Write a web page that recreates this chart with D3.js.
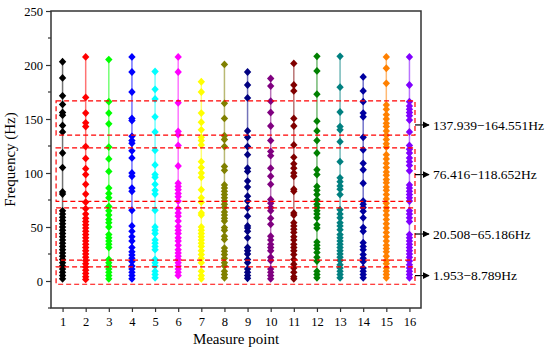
<!DOCTYPE html>
<html>
<head>
<meta charset="utf-8">
<script src="https://cdn.jsdelivr.net/npm/d3@7"></script>
<style>
  body { margin: 0; background: #fff; }
  text { font-family: "Liberation Serif", "Times New Roman", serif; fill: #000; }
</style>
</head>
<body>
<div id="chart"></div>
<script>
// measure points and their frequencies (Hz)
const points = [1, 2, 3, 4, 5, 6, 7, 8, 9, 10, 11, 12, 13, 14, 15, 16];
const colors = ["#000000", "#ff0000", "#00ff00", "#0000ff", "#00ffff", "#ff00ff", "#ffff00", "#808000",
                "#000080", "#800080", "#800000", "#008000", "#008080", "#0000a0", "#ff8000", "#8000ff"];

const mp1 = [203, 188, 171.5, 163.5, 156, 153.5, 144, 138, 118.5, 105, 82.5, 80.5, 65, 62, 59, 56, 53, 50, 47, 44, 41,
             38, 35, 32, 29, 26, 23, 20, 17, 14, 11, 8, 5, 2];
const mp2 = [207.5, 170, 155.5, 146.5, 143, 124.5, 113.5, 104, 98.5, 89.5, 80.5, 73, 67, 62, 58, 55, 52, 49, 46, 43,
             40, 37, 34, 31, 28, 25, 22, 19, 16, 13, 10, 7, 4, 1.5];
const mp3 = [205, 166, 155.5, 145.5, 124, 113, 101.5, 86, 81, 77, 69, 65, 61, 57, 54, 50, 43, 40, 37, 34, 31, 20,
             17, 14, 11, 8, 5, 2];
const mp4 = [207.5, 193.5, 175, 150.5, 148.5, 134, 130, 127.5, 120.5, 114, 100, 97, 86, 83, 65.5, 51, 46, 41, 37,
             31, 27, 24, 21, 18, 14, 11, 8, 5, 2];
const mp5 = [194, 177.5, 168.5, 152, 138, 121, 107.5, 98.5, 96, 89.5, 84, 80.5, 65.5, 50, 47, 44, 38, 35, 32, 29,
             20, 17, 14, 9, 6, 3];
const mp6 = [207.5, 193.5, 165, 138.5, 135.5, 125.5, 106.5, 90.5, 87.5, 84.5, 81, 78, 74, 67, 63, 60, 55.5, 50.5,
             47, 44, 40, 37, 33, 29, 26, 23, 20, 17, 14, 11, 8, 5];
const mp7 = [184.5, 175, 155.5, 147, 140, 133, 130, 126, 110.5, 105, 100, 96, 84.5, 77, 73, 63, 61, 50, 47, 44, 41,
             38, 35, 32, 28, 24.5, 21, 17, 9, 5, 2];
const mp8 = [200.5, 164.5, 150.5, 134.5, 131, 124.5, 106, 102.5, 89, 86, 83, 80, 77, 74, 71, 68, 64, 61, 58, 55.5,
             49.5, 47, 41.5, 38.5, 30.5, 27.5, 24.5, 21, 17, 14, 9, 6, 3];
const mp9 = [193.5, 181.5, 169.5, 139, 133, 124.5, 117, 104.5, 101.5, 92.5, 87, 78.5, 74, 67.5, 60, 51, 49, 46, 40,
             31, 28, 25, 20, 17, 11, 8, 5, 2.5];
const mp10 = [187.5, 180.5, 166.5, 156, 143.5, 130, 120, 116, 104.5, 97, 89.5, 75.5, 72, 68, 65, 58, 52.5, 41.5, 38,
              34, 31, 28, 22, 19, 11, 8, 5, 2];
const mp11 = [201.5, 181.5, 176, 150.5, 143.5, 126, 114.5, 108.5, 104.5, 100, 97, 85, 83, 63, 61, 54, 51, 48, 45,
              41, 38, 34, 31, 28, 24.5, 20, 15.5, 12, 8, 4, 2];
const mp12 = [208, 194.5, 173, 148, 139, 130, 118.5, 103, 98.5, 87.5, 84, 80, 75, 71, 68, 65, 62, 58.5, 52, 49, 36,
              33, 30, 26.5, 22, 18.5, 9, 6, 3];
const mp13 = [208, 179.5, 156.5, 143, 140, 129, 110.5, 95.5, 92, 88, 85, 80, 66, 62, 58.5, 54, 51, 47.5, 43, 40, 37,
              34, 31, 28, 25, 22, 19, 15, 12, 9, 6, 3];
const mp14 = [189, 176, 166, 155.5, 152, 133, 121.5, 109, 103, 90.5, 74, 71, 68, 64.5, 58.5, 49.5, 46, 35.5, 32, 29,
              24.5, 21, 18, 12, 9, 6, 3];
const mp15 = [207.5, 197, 183, 163, 159, 154, 150, 146, 143, 139, 135, 131, 127, 124, 117, 113, 109, 105, 101, 98,
              94, 91, 87, 84, 80, 76, 72, 68, 65, 61, 57, 53, 49, 45, 41, 37, 33, 30, 27, 23, 19, 16, 12, 9, 6, 3];
const mp16 = [207.5, 181.5, 166, 162, 159, 156, 153, 149, 138, 125.5, 122, 118.5, 114, 110.5, 107, 102, 89, 86, 83,
              80, 77, 74, 65, 62, 58.5, 55, 43, 40, 37, 34, 31, 28, 25, 22, 18.5, 15, 12, 9, 6, 3];
const freqs = [mp1, mp2, mp3, mp4, mp5, mp6, mp7, mp8, mp9, mp10, mp11, mp12, mp13, mp14, mp15, mp16];

// dashed frequency bands (box limits) and their labels
const bandLow = [-3, 19.4, 73.8, 135];
const bandHigh = [13, 67.7, 123.3, 166.7];
const bandArrowAt = [5, 43.5, 98.5, 144.5];
const bandLabels = ["1.953\u22128.789Hz", "20.508\u221265.186Hz", "76.416\u2212118.652Hz", "137.939\u2212164.551Hz"];

const yTicks = [0, 50, 100, 150, 200, 250];
const yMinor = [-25, 25, 75, 125, 175, 225];

const width = 550;
const height = 354;
const margin = {left: 51, right: 129, top: 11, bottom: 46};

const svg = d3.select("#chart")
  .append("svg")
  .attr("width", width)
  .attr("height", height);

const x = d3.scaleLinear().domain([0.5, 16.5]).range([margin.left, width - margin.right]);
const y = d3.scaleLinear().domain([-25, 250]).range([height - margin.bottom, margin.top]);

const axisColor = "#333";

// vertical lines and diamonds for each measure point
const diamond = "M0,-3.9L3.7,0L0,3.9L-3.7,0Z";
points.forEach((p, i) => {
  const vals = freqs[i];
  const g = svg.append("g");
  g.append("line")
    .attr("x1", x(p)).attr("x2", x(p))
    .attr("y1", y(d3.min(vals))).attr("y2", y(d3.max(vals)))
    .attr("stroke", colors[i])
    .attr("stroke-opacity", 0.55)
    .attr("stroke-width", 1.5);
  g.selectAll("path")
    .data(vals)
    .enter()
    .append("path")
      .attr("d", diamond)
      .attr("transform", d => `translate(${x(p)},${y(d)})`)
      .attr("fill", colors[i]);
});

// red dashed boxes
bandLow.forEach((lo, i) => {
  svg.append("rect")
    .attr("x", x(0.72))
    .attr("y", y(bandHigh[i]))
    .attr("width", x(16.24) - x(0.72))
    .attr("height", y(lo) - y(bandHigh[i]))
    .attr("fill", "none")
    .attr("stroke", "#ff0000")
    .attr("stroke-width", 1.2)
    .attr("stroke-dasharray", "5,3");
});

// arrows and labels on the right
svg.append("defs").append("marker")
  .attr("id", "head")
  .attr("viewBox", "0 0 10 10")
  .attr("refX", 9).attr("refY", 5)
  .attr("markerWidth", 7).attr("markerHeight", 7)
  .attr("markerUnits", "userSpaceOnUse")
  .attr("orient", "auto")
  .append("path")
    .attr("d", "M0,0L10,5L0,10Z")
    .attr("fill", "#000");

bandArrowAt.forEach((v, i) => {
  svg.append("line")
    .attr("x1", x(16.24)).attr("x2", 429)
    .attr("y1", y(v)).attr("y2", y(v))
    .attr("stroke", "#000")
    .attr("stroke-width", 1.2)
    .attr("marker-end", "url(#head)");
  svg.append("text")
    .attr("x", 433)
    .attr("y", y(v))
    .attr("dy", "0.35em")
    .attr("font-size", "13.5px")
    .text(bandLabels[i]);
});

// frame
svg.append("rect")
  .attr("x", margin.left).attr("y", margin.top)
  .attr("width", width - margin.left - margin.right)
  .attr("height", height - margin.top - margin.bottom)
  .attr("fill", "none")
  .attr("stroke", axisColor)
  .attr("stroke-width", 1.5);

// y axis
const yAxis = svg.append("g")
  .attr("transform", `translate(${margin.left},0)`)
  .call(d3.axisLeft(y).tickValues(yTicks).tickSize(5).tickPadding(3));
yAxis.select(".domain").remove();
yAxis.selectAll("line").attr("stroke", axisColor).attr("stroke-width", 1.2);
yAxis.selectAll("text").attr("font-size", "12.5px").attr("font-family", "Liberation Serif");

svg.append("g")
  .attr("transform", `translate(${margin.left},0)`)
  .selectAll("line")
  .data(yMinor)
  .enter()
  .append("line")
    .attr("x1", -3).attr("x2", 0)
    .attr("y1", d => y(d)).attr("y2", d => y(d))
    .attr("stroke", axisColor)
    .attr("stroke-width", 1.2);

// x axis
const xAxis = svg.append("g")
  .attr("transform", `translate(0,${height - margin.bottom})`)
  .call(d3.axisBottom(x).tickValues(points).tickFormat(d3.format("d")).tickSize(4).tickPadding(5));
xAxis.select(".domain").remove();
xAxis.selectAll("line").attr("stroke", axisColor).attr("stroke-width", 1.2);
xAxis.selectAll("text").attr("font-size", "12.5px").attr("font-family", "Liberation Serif");

// axis titles
svg.append("text")
  .attr("x", (margin.left + width - margin.right) / 2)
  .attr("y", 344)
  .attr("text-anchor", "middle")
  .attr("font-size", "15px")
  .text("Measure point");

svg.append("text")
  .attr("transform", `translate(15,${(margin.top + height - margin.bottom) / 2}) rotate(-90)`)
  .attr("text-anchor", "middle")
  .attr("font-size", "15px")
  .text("Frequency (Hz)");
</script>
</body>
</html>
